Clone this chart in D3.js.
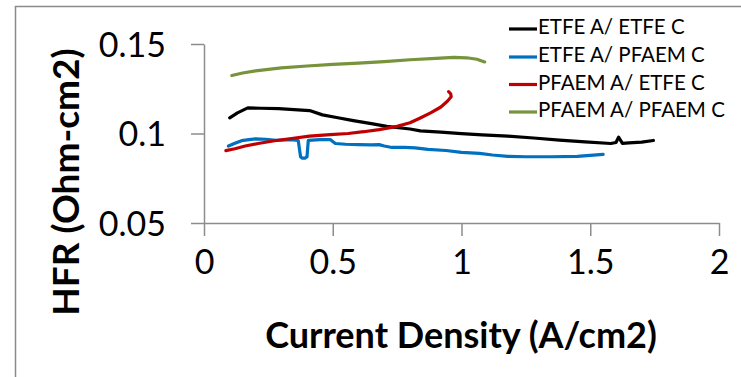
<!DOCTYPE html>
<html><head><meta charset="utf-8">
<script src="https://cdn.jsdelivr.net/npm/d3@7"></script>
<style>body{margin:0;background:#fff}svg{display:block}text{font-family:Lato,"Open Sans",sans-serif;fill:#000}</style>
</head><body><svg id="c" width="741" height="377"></svg>
<script>
const seriesNames = ["ETFE A/ ETFE C","ETFE A/ PFAEM C","PFAEM A/ ETFE C","PFAEM A/ PFAEM C"];
const seriesColors = ["#000000","#0070C0","#C00000","#77933C"];
const xTicks = [0,0.5,1,1.5,2];
const yTicks = [0.05,0.1,0.15];
const xLabels = ["0","0.5","1","1.5","2"];
const yLabels = ["0.05","0.1","0.15"];

const etfeEtfeX = [0.10,0.13,0.17,0.22,0.29,0.35,0.41,0.46,0.52,0.58,0.65,0.71,0.80,0.84,0.92,1.00,1.08,1.18,1.28,1.38,1.48,1.58,1.60,1.61,1.625,1.65,1.70,1.745];
const etfeEtfeY = [0.1087,0.1115,0.1143,0.1141,0.1139,0.1133,0.1128,0.1104,0.1088,0.1072,0.1055,0.1040,0.1025,0.1015,0.1008,0.0999,0.0992,0.0985,0.0975,0.0963,0.0953,0.0944,0.0950,0.0980,0.0945,0.0948,0.0952,0.0961];

const etfePfaemX = [0.095,0.12,0.146,0.175,0.20,0.24,0.28,0.34,0.366,0.375,0.382,0.392,0.40,0.405,0.45,0.49,0.51,0.55,0.60,0.65,0.68,0.70,0.73,0.78,0.82,0.87,0.94,1.00,1.07,1.12,1.18,1.25,1.35,1.45,1.50,1.55];
const etfePfaemY = [0.0930,0.0945,0.0960,0.0966,0.0970,0.0968,0.0962,0.0965,0.0961,0.0870,0.0862,0.0862,0.0870,0.0962,0.0966,0.0966,0.0944,0.0940,0.0938,0.0936,0.0938,0.0930,0.0922,0.0922,0.0920,0.0911,0.0905,0.0895,0.0889,0.0880,0.0872,0.0870,0.0870,0.0872,0.0878,0.0883];

const pfaemEtfeX = [0.085,0.12,0.16,0.21,0.28,0.34,0.41,0.49,0.56,0.62,0.68,0.75,0.80,0.84,0.88,0.92,0.945,0.96,0.958,0.95];
const pfaemEtfeY = [0.0904,0.0915,0.0930,0.0944,0.0961,0.0972,0.0985,0.0994,0.1000,0.1010,0.1022,0.1040,0.1060,0.1087,0.1115,0.1148,0.1180,0.1205,0.1222,0.1234];

const pfaemPfaemX = [0.108,0.15,0.20,0.30,0.40,0.50,0.60,0.70,0.80,0.90,0.97,1.02,1.06,1.09];
const pfaemPfaemY = [0.1324,0.1338,0.1350,0.1367,0.1377,0.1386,0.1393,0.1402,0.1412,0.1420,0.1425,0.1423,0.1415,0.1400];

const seriesX = [etfeEtfeX, etfePfaemX, pfaemEtfeX, pfaemPfaemX];
const seriesY = [etfeEtfeY, etfePfaemY, pfaemEtfeY, pfaemPfaemY];

const svg = d3.select("#c");
svg.append("rect").attr("width",741).attr("height",377).attr("fill","#fff");
// outer frame (left and top visible)
svg.append("path").attr("d","M15.5,377V6.5H741").attr("fill","none").attr("stroke","#8a8a8a").attr("stroke-width",1.5);

const x = d3.scaleLinear().domain([0,2]).range([204,719]);
const y = d3.scaleLinear().domain([0.05,0.15]).range([223,44]);

const axCol = "#8c8c8c";
const gx = svg.append("g").attr("transform","translate(0,223)")
  .call(d3.axisBottom(x).tickValues(xTicks).tickFormat((d,i)=>xLabels[i]).tickSizeInner(13).tickSizeOuter(0).tickPadding(14));
const gy = svg.append("g").attr("transform","translate(204,0)")
  .call(d3.axisLeft(y).tickValues(yTicks).tickFormat((d,i)=>yLabels[i]).tickSizeInner(13).tickSizeOuter(0).tickPadding(25));
[gx,gy].forEach(g=>{
  g.select(".domain").attr("stroke",axCol).attr("stroke-width",1.5);
  g.selectAll(".tick line").attr("stroke",axCol).attr("stroke-width",1.5);
  g.selectAll(".tick text").attr("font-size",34).attr("font-family","Lato").attr("fill","#000");
});
gy.selectAll(".tick text").attr("dy","0.36em");

const line = d3.line().x(d=>x(d[0])).y(d=>y(d[1]));
seriesX.forEach((xs,i)=>{
  const pts = xs.map((v,j)=>[v, seriesY[i][j]]);
  svg.append("path").datum(pts).attr("d",line).attr("fill","none")
    .attr("stroke",seriesColors[i]).attr("stroke-width",3.2)
    .attr("stroke-linejoin","round").attr("stroke-linecap","round");
});

// axis titles
svg.append("text").attr("x",461).attr("y",339).attr("text-anchor","middle").attr("dominant-baseline","middle")
  .attr("font-weight","bold").attr("font-size",36).text("Current Density (A/cm2)");
svg.append("text").attr("transform","translate(70,182) rotate(-90)").attr("text-anchor","middle").attr("dominant-baseline","middle")
  .attr("font-weight","bold").attr("font-size",37).text("HFR (Ohm-cm2)");

// legend
const legY = [29,57,84.5,112];
seriesNames.forEach((n,i)=>{
  svg.append("line").attr("x1",509).attr("x2",537).attr("y1",legY[i]).attr("y2",legY[i])
    .attr("stroke",seriesColors[i]).attr("stroke-width",3.2);
  svg.append("text").attr("x",538).attr("y",legY[i]).attr("dominant-baseline","middle")
    .attr("font-size",20.5).text(n);
});
</script></body></html>
